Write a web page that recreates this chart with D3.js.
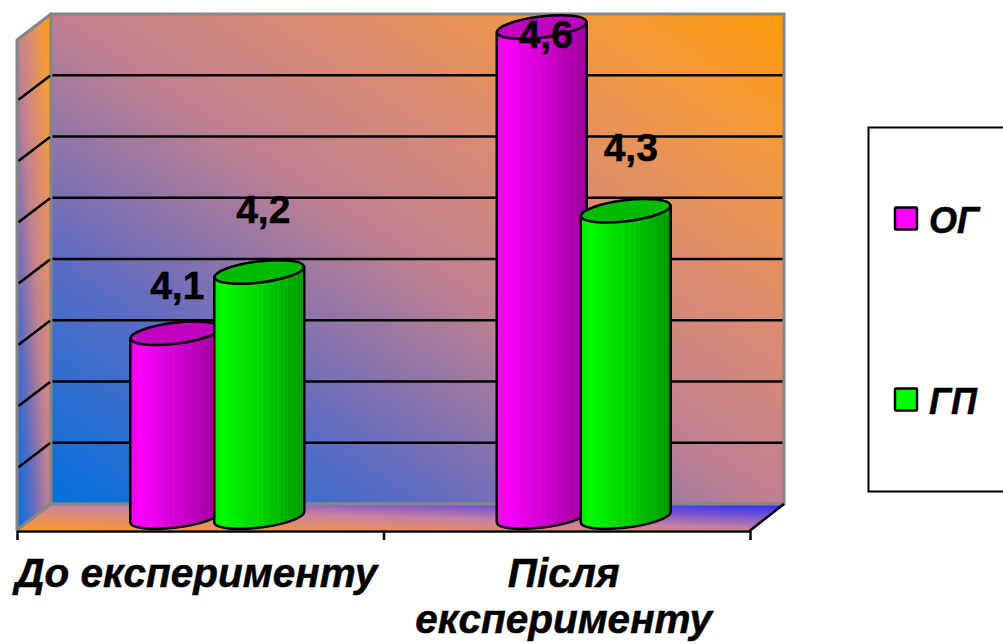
<!DOCTYPE html>
<html lang="uk">
<head>
<meta charset="utf-8">
<title>До і після експерименту</title>
<script src="https://cdnjs.cloudflare.com/ajax/libs/d3/7.8.5/d3.min.js"></script>
<style>
  html, body { margin: 0; padding: 0; background: #fff; overflow: hidden; }
  svg { display: block; }
  text { font-family: "Liberation Sans", Arial, sans-serif; font-weight: bold; fill: #000; stroke: #000; stroke-width: .5px; }
</style>
</head>
<body>
<script>
// chart data
var categories = ["До експерименту", "Після експерименту"];
var categoryLines = [["До експерименту"], ["Після", "експерименту"]];
var seriesNames = ["ОГ", "ГП"];
var ogValues = [4.1, 4.6];
var gpValues = [4.2, 4.3];
var ogLabels = ["4,1", "4,6"];
var gpLabels = ["4,2", "4,3"];
var gridValues = [3.9, 4.0, 4.1, 4.2, 4.3, 4.4, 4.5];

var w = 1003, h = 644;
var depthX = 34, depthY = 26;      // how far the back wall sits from the front plane
var left = 17, right = 750;        // front plane
var backTop = 14, backBottom = 504;
var rx = 45, ry = 10.5, tilt = -7; // cylinder caps
var capDy = 5;                     // cap end points sit this far above / below the cap centre

var svg = d3.select("body").append("svg").attr("width", w).attr("height", h);
var defs = svg.append("defs");

// back wall scale, bars stand half way into the depth
var yScale = d3.scaleLinear().domain([3.8, 4.6]).range([backBottom, backTop]);
var xScale = d3.scaleBand().domain(categories).range([left + depthX / 2, right + depthX / 2]);
var xSeries = d3.scaleBand().domain(seriesNames).range([-84, 84]);
var tickScale = d3.scaleLinear().domain([0, categories.length]).range([left, right]);

function barCenter(cat, name) {
  return xScale(cat) + xScale.bandwidth() / 2 + xSeries(name) + xSeries.bandwidth() / 2;
}

function diagonal(id, stops) {
  var g = defs.append("linearGradient").attr("id", id)
    .attr("x1", 0).attr("y1", 1).attr("x2", 1).attr("y2", 0);
  stops.forEach(function(st) {
    g.append("stop").attr("offset", st[0]).attr("stop-color", st[1]);
  });
}
diagonal("wallFill", [[0, "#0070dc"], [.25, "#5a6cc4"], [.32, "#7a70b4"], [.5, "#c08090"], [.68, "#dc8c70"], [.86, "#f49a3c"], [1, "#ff9a0c"]]);
diagonal("floorFill", [[0, "#ff9a2a"], [.5, "#c880a0"], [1, "#2a2aff"]]);

// cylinder side: smooth shading cut in strips, strips get thinner to the right
var stripEdges = [0, .1, .47, .53, .59, .65, .71, .76, .81, .86, .91, .95, 1];
function cylinderFill(id, edge, color, dark) {
  var shade = d3.scaleLinear().domain([0, .13, 1]).range([edge, color, dark])
    .interpolate(d3.interpolateRgb);
  var g = defs.append("linearGradient").attr("id", id);
  stripEdges.forEach(function(e, i) {
    if (i === 0) return;
    var a = stripEdges[i - 1];
    if (i > 1) {
      g.append("stop").attr("offset", a).attr("stop-color", d3.color(shade(a)).brighter(.2));
      g.append("stop").attr("offset", a + .011).attr("stop-color", d3.color(shade(a)).brighter(.2));
      g.append("stop").attr("offset", a + .011).attr("stop-color", shade(a));
    } else {
      g.append("stop").attr("offset", a).attr("stop-color", shade(a));
    }
    g.append("stop").attr("offset", e).attr("stop-color", shade(e));
  });
}
var colors = d3.scaleOrdinal().domain(seriesNames).range(["#ff00ff", "#00ff00"]);
var capColors = d3.scaleOrdinal().domain(seriesNames).range(["#c000c0", "#00bb00"]);
cylinderFill("side0", "#e800e8", colors(seriesNames[0]), "#960096");
cylinderFill("side1", "#00e800", colors(seriesNames[1]), "#009600");

// walls and floor
var wallLine = "#868686";
svg.append("path")
  .attr("d", d3.line()([[left, backTop + depthY], [left + depthX, backTop], [left + depthX, backBottom], [left, backBottom + depthY]]) + "Z")
  .attr("fill", "url(#wallFill)").attr("stroke", wallLine).attr("stroke-width", 3).attr("stroke-linejoin", "round");
svg.append("rect")
  .attr("x", left + depthX).attr("y", backTop)
  .attr("width", right - left).attr("height", backBottom - backTop)
  .attr("fill", "url(#wallFill)").attr("stroke", wallLine).attr("stroke-width", 3);
svg.append("path")
  .attr("d", d3.line()([[left, backBottom + depthY], [left + depthX, backBottom], [right + depthX, backBottom], [right, backBottom + depthY]]) + "Z")
  .attr("fill", "url(#floorFill)");
svg.append("line")
  .attr("x1", left + depthX).attr("y1", backBottom).attr("x2", right + depthX).attr("y2", backBottom)
  .attr("stroke", wallLine).attr("stroke-width", 3);
svg.append("line")
  .attr("x1", left).attr("y1", backBottom + depthY).attr("x2", left + depthX).attr("y2", backBottom)
  .attr("stroke", wallLine).attr("stroke-width", 3);

// grid lines on back and side wall
var grid = svg.append("g").attr("stroke", "#000").attr("stroke-width", 2.5).attr("fill", "none");
grid.selectAll(".back").data(gridValues).enter().append("line")
  .attr("x1", left + depthX + 1.5).attr("x2", right + depthX - 1.5)
  .attr("y1", function(d) { return yScale(d); }).attr("y2", function(d) { return yScale(d); });
grid.selectAll(".side").data(gridValues).enter().append("line")
  .attr("x1", left + 1.5).attr("x2", left + depthX - 1)
  .attr("y1", function(d) { return yScale(d) + depthY - 1.5; }).attr("y2", function(d) { return yScale(d) + .5; });

// category axis
var axis = svg.append("g").attr("transform", "translate(0," + (backBottom + depthY + 1) + ")")
  .call(d3.axisBottom(tickScale).tickValues([0, 1, 2]).tickFormat("").tickSize(9).tickSizeOuter(0));
axis.selectAll("path, line").attr("stroke", "#000").attr("stroke-width", 2.5);
svg.append("line")
  .attr("x1", right - .5).attr("y1", backBottom + depthY + 1).attr("x2", right + depthX).attr("y2", backBottom)
  .attr("stroke", "#000").attr("stroke-width", 2.5);

// cylinders, magenta first so green overlaps it
var dy = depthY / 2;
var series = [ogValues, gpValues];
seriesNames.forEach(function(name, s) {
  var layer = svg.append("g");
  categories.forEach(function(cat, c) {
    var cx = barCenter(cat, name);
    var top = yScale(series[s][c]) + dy;
    var base = yScale(3.8) + dy;
    var arc = "A" + rx + " " + ry + " " + tilt + " 0 0 ";
    layer.append("path")
      .attr("d", "M" + (cx - rx) + " " + (top + capDy) + "L" + (cx - rx) + " " + (base + capDy) + arc + (cx + rx) + " " + (base - capDy) + "L" + (cx + rx) + " " + (top - capDy) + "Z")
      .attr("fill", "url(#side" + s + ")")
      .attr("stroke", "#000").attr("stroke-width", 2.5).attr("stroke-linejoin", "round");
    layer.append("ellipse")
      .attr("transform", "translate(" + cx + "," + top + ") rotate(" + tilt + ")")
      .attr("rx", rx).attr("ry", ry)
      .attr("fill", capColors(name))
      .attr("stroke", "#000").attr("stroke-width", 2.5);
  });
});

// value labels, each sits at its own offset from the cap centre
var labels = [ogLabels, gpLabels];
var labelShift = [[[2, -34], [4, 21]], [[4, -49], [5, -50]]];
seriesNames.forEach(function(name, s) {
  categories.forEach(function(cat, c) {
    svg.append("text")
      .attr("x", barCenter(cat, name) + labelShift[s][c][0])
      .attr("y", yScale(series[s][c]) + dy + labelShift[s][c][1])
      .attr("text-anchor", "middle")
      .style("font-size", "39px")
      .text(labels[s][c]);
  });
});

// category labels
categoryLines.forEach(function(lines, c) {
  lines.forEach(function(line, i) {
    svg.append("text")
      .attr("x", tickScale(c + .5) - (c === 0 ? 4 : 3))
      .attr("y", 587 + i * 46)
      .attr("text-anchor", "middle")
      .style("font-size", "40.5px").style("font-style", "italic")
      .text(line);
  });
});

// legend, runs off the right edge of the picture
svg.append("rect")
  .attr("x", 868.5).attr("y", 127.5).attr("width", 150).attr("height", 364)
  .attr("fill", "#fff").attr("stroke", "#000").attr("stroke-width", 2);
var legendY = d3.scalePoint().domain(seriesNames).range([219, 400]);
seriesNames.forEach(function(name) {
  svg.append("rect")
    .attr("x", 895).attr("y", legendY(name) - 11.5).attr("width", 22).attr("height", 22)
    .attr("fill", colors(name)).attr("stroke", "#000").attr("stroke-width", 2.5).attr("rx", 1);
  svg.append("text")
    .attr("x", 929).attr("y", legendY(name) + 14)
    .style("font-size", "36px").style("font-style", "italic")
    .text(name);
});
</script>
</body>
</html>
